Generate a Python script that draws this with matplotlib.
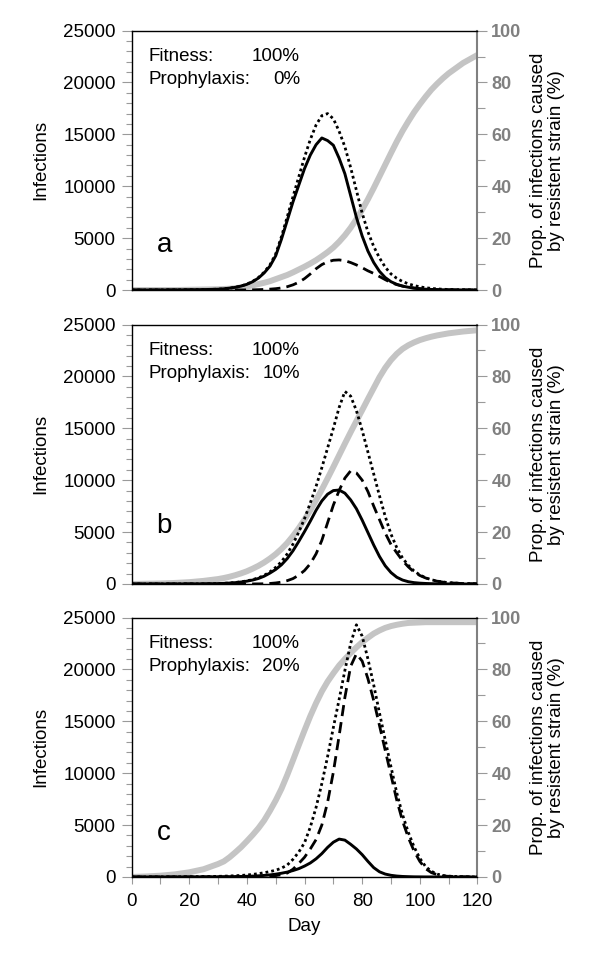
import matplotlib
matplotlib.use("Agg")
import matplotlib.pyplot as plt
from matplotlib.ticker import MultipleLocator

plt.rcParams['font.family'] = ['Liberation Sans', 'DejaVu Sans']

# day grid shared by all series
days = [0, 5, 10, 15, 20, 25,
        30, 32, 34, 36, 38, 40, 42, 44, 46, 48, 50, 52, 54, 56, 58, 60, 62, 64, 66, 68, 70,
        72, 74, 76, 78, 80, 82, 84, 86, 88, 90, 92, 94, 96, 98, 100, 102, 104, 106, 108, 110,
        115, 120]

# panel a: prophylaxis 0%
a_solid = [5, 8, 12, 18, 28, 45,
           80, 120, 180, 260, 380, 550, 800, 1150, 1650, 2300, 3300, 4900, 6700, 8500, 10100, 11700,
           13000, 14000, 14650, 14400, 13950, 12700, 11200, 9100, 7000, 5200, 3750, 2650, 1800, 1200,
           800, 550, 380, 270, 180, 120, 80, 55, 40, 25, 20,
           10, 5]
a_dotted = [5, 8, 12, 18, 28, 45,
            80, 120, 180, 265, 390, 570, 830, 1200, 1720, 2420, 3480, 5150, 7050, 9000, 10900, 12800,
            14500, 15900, 16800, 17000, 16500, 15300, 13800, 11800, 9600, 7400, 5600, 4200, 3100, 2200,
            1550, 1130, 820, 600, 430, 310, 220, 160, 110, 75, 55,
            25, 10]
a_dashed = [0, 0, 0, 0, 0, 0,
            0, 0, 0, 5, 8, 12, 20, 35, 55, 85, 130, 200, 320, 500, 750, 1100,
            1550, 2050, 2450, 2720, 2870, 2900, 2830, 2650, 2420, 2150, 1850, 1600, 1300, 1000,
            720, 520, 380, 270, 190, 130, 90, 60, 40, 25, 15,
            5, 0]
a_prop = [0, 0, 0, 0, 0.1, 0.2,
          0.3, 0.4, 0.5, 0.7, 1.0, 1.4, 1.8, 2.3, 2.8, 3.4, 4.2, 5.0, 5.8, 6.8, 7.9, 9.0,
          10.2, 11.5, 13.0, 14.6, 16.4, 18.6, 21.1, 24.0, 27.3, 31.0, 35.0, 39.3, 43.8, 48.3,
          52.8, 57.2, 61.3, 65.0, 68.5, 71.6, 74.5, 77.2, 79.5, 81.6, 83.5,
          87.5, 90.6]

# panel b: prophylaxis 10%
b_solid = [5, 5, 5, 8, 10, 15,
           40, 60, 90, 130, 190, 270, 380, 530, 750, 1050, 1400, 1850, 2450, 3200, 4100, 5050,
           6050, 7100, 8000, 8650, 9000, 9050, 8750, 8100, 7250, 6150, 4950, 3750, 2650, 1750,
           1100, 650, 380, 220, 130, 80, 50, 30, 20, 10, 5,
           0, 0]
b_dotted = [5, 5, 5, 8, 10, 15,
            45, 65, 100, 145, 210, 300, 420, 590, 830, 1170, 1600, 2150, 2900, 3850, 5000, 6300,
            7800, 9400, 11200, 13100, 15000, 17000, 18550, 18100, 16700, 14800, 12700, 10600, 8500, 6500,
            4800, 3500, 2500, 1800, 1250, 870, 600, 410, 280, 190, 130,
            45, 15]
b_dashed = [0, 0, 0, 0, 0, 0,
            0, 0, 0, 0, 0, 0, 5, 10, 20, 50, 100, 180, 320, 520, 850, 1300,
            1950, 2900, 4200, 5900, 7600, 9000, 10200, 10900, 10700, 10000, 8900, 7500, 6200, 4900,
            3800, 3000, 2250, 1650, 1150, 820, 580, 400, 270, 180, 120,
            40, 10]
b_prop = [0, 0.1, 0.2, 0.4, 0.7, 1.2,
          1.9, 2.3, 2.8, 3.4, 4.1, 4.9, 5.9, 7.0, 8.3, 9.8, 11.5, 13.5, 15.8, 18.5, 21.5, 24.8,
          28.4, 32.3, 36.4, 40.7, 45.1, 49.6, 54.1, 58.5, 62.8, 67.0, 71.3, 75.5, 79.7, 83.3,
          86.3, 88.7, 90.6, 92.0, 93.1, 94.0, 94.7, 95.3, 95.8, 96.2, 96.6,
          97.3, 97.8]

# panel c: prophylaxis 20%
c_solid = [0, 2, 4, 6, 10, 15,
           20, 25, 32, 40, 50, 65, 85, 110, 150, 200, 270, 360, 470, 620, 800, 1050,
           1350, 1750, 2250, 2850, 3350, 3650, 3550, 3150, 2700, 2150, 1500, 900, 500, 280,
           160, 90, 50, 30, 15, 10, 5, 5, 0, 0, 0,
           0, 0]
c_dotted = [0, 5, 10, 15, 25, 40,
            60, 75, 95, 120, 150, 190, 250, 320, 410, 520, 650, 850, 1150, 1700, 2400, 3300,
            4800, 6700, 9000, 11600, 14400, 17100, 19900, 22500, 24300, 23200, 21000, 18500, 15800, 13200,
            10600, 8100, 6000, 4300, 2900, 1800, 1000, 550, 280, 140, 80,
            20, 5]
c_dashed = [0, 0, 0, 0, 0, 0,
            0, 0, 0, 0, 0, 0, 0, 0, 30, 70, 130, 220, 380, 750, 1300, 1900,
            2700, 3600, 5000, 7200, 10100, 13600, 17300, 20300, 21500, 20800, 19100, 17000, 14600, 12200,
            9800, 7400, 5400, 3800, 2500, 1500, 800, 420, 220, 110, 60,
            15, 5]
c_prop = [0, 0.2, 0.5, 1.0, 1.8, 3.0,
          5.0, 6.0, 7.6, 9.5, 11.5, 13.8, 16.2, 18.8, 21.8, 25.5, 29.5, 34.0, 39.3, 45.0, 50.8, 56.5,
          62.0, 67.0, 71.5, 75.3, 78.5, 81.5, 84.0, 86.3, 88.5, 90.5, 92.2, 93.8, 95.0, 96.0,
          96.7, 97.2, 97.6, 97.9, 98.0, 98.1, 98.2, 98.2, 98.2, 98.2, 98.2,
          98.2, 98.2]

panels = [
    ("a", "0%", a_solid, a_dotted, a_dashed, a_prop, 0.145),
    ("b", "10%", b_solid, b_dotted, b_dashed, b_prop, 0.196),
    ("c", "20%", c_solid, c_dotted, c_dashed, c_prop, 0.143),
]
bottoms = [0.6963, 0.3885, 0.0817]

gray_tick = "#9a9a9a"
gray_lab = "#808080"

fig = plt.figure(figsize=(6, 9.55), dpi=100)

for i, (letter, proph, solid, dotted, dashed, prop, ly) in enumerate(panels):
    ax = fig.add_axes([0.2193, bottoms[i], 0.5765, 0.2717])
    ax2 = ax.twinx()
    # infection curves above the proportion curve
    ax.set_zorder(ax2.get_zorder() + 1)
    ax.patch.set_visible(False)

    ax2.plot(days, prop, color="#c4c4c4", lw=4.3, solid_capstyle="butt")
    ax.plot(days, dashed, color="black", lw=2.0, linestyle=(0, (4, 2.2)))
    ax.plot(days, dotted, color="black", lw=2.0, linestyle=(0, (1, 1.1)))
    ax.plot(days, solid, color="black", lw=2.1)

    ax.set_xlim(0, 120)
    ax.set_ylim(0, 25000)
    ax2.set_ylim(0, 100)

    ax.yaxis.set_major_locator(MultipleLocator(5000))
    ax.yaxis.set_minor_locator(MultipleLocator(1000))
    ax.tick_params(axis="y", which="major", direction="out", length=7, width=0.8,
                   color=gray_tick, labelsize=13.5, pad=4.5)
    ax.tick_params(axis="y", which="minor", direction="out", length=4.5, width=0.8,
                   color=gray_tick)
    ax.set_ylabel("Infections", fontsize=13.5)
    ax.yaxis.set_label_coords(-0.237, 0.5)

    ax2.yaxis.set_major_locator(MultipleLocator(20))
    ax2.yaxis.set_minor_locator(MultipleLocator(10))
    ax2.tick_params(axis="y", which="major", direction="out", length=7, width=0.8,
                    color=gray_tick, labelcolor=gray_lab, labelsize=13, pad=3)
    ax2.tick_params(axis="y", which="minor", direction="out", length=6, width=0.8,
                    color=gray_tick)
    for t in ax2.get_yticklabels():
        t.set_fontweight("bold")
    ax2.set_ylabel("Prop. of infections caused\nby resistent strain (%)", fontsize=13.5,
                   linespacing=1.05)
    ax2.yaxis.set_label_coords(1.153, 0.5)

    for side in ["left", "top", "bottom"]:
        ax.spines[side].set_color("black")
        ax.spines[side].set_linewidth(1.0)
        ax2.spines[side].set_visible(False)
    ax.spines["right"].set_visible(False)
    ax2.spines["right"].set_color(gray_lab)
    ax2.spines["right"].set_linewidth(1.5)

    if i < 2:
        ax.tick_params(axis="x", which="both", bottom=False, labelbottom=False)
    else:
        ax.xaxis.set_major_locator(MultipleLocator(20))
        ax.xaxis.set_minor_locator(MultipleLocator(10))
        ax.tick_params(axis="x", which="both", direction="out", length=5, width=0.8,
                       color=gray_tick, labelsize=13.5, pad=6.5)
        ax.set_xlabel("Day", fontsize=13.5)
        ax.xaxis.set_label_coords(0.5, -0.16)
    ax2.tick_params(axis="x", which="both", bottom=False, labelbottom=False)

    ax.text(0.05, 0.899, "Fitness:", transform=ax.transAxes, fontsize=13.5, va="center", ha="left")
    ax.text(0.487, 0.899, "100%", transform=ax.transAxes, fontsize=13.5, va="center", ha="right")
    ax.text(0.05, 0.81, "Prophylaxis:", transform=ax.transAxes, fontsize=13.5, va="center", ha="left")
    ax.text(0.487, 0.81, proph, transform=ax.transAxes, fontsize=13.5, va="center", ha="right")
    ax.text(0.0725, ly, letter, transform=ax.transAxes, fontsize=20, va="baseline", ha="left")

fig.savefig("out.png", dpi=100)
